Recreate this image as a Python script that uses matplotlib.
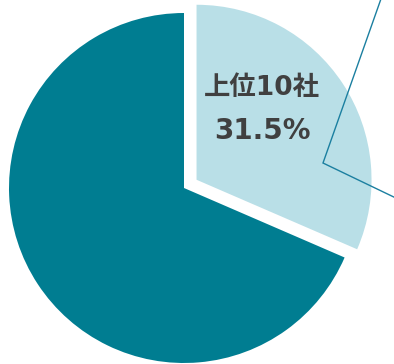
import matplotlib
matplotlib.use('Agg')
import matplotlib.pyplot as plt

plt.rcParams['font.family'] = ['DejaVu Sans', 'Noto Sans CJK JP']

# data
labels = ['上位10社', 'その他']
shares = [31.5, 68.5]
colors = ['#b9dfe7', '#007d91']

fig = plt.figure(figsize=(3.94, 3.64), dpi=100)
ax = fig.add_axes([0, 0, 1, 1])

wedges, _ = ax.pie(shares, colors=colors, startangle=90, counterclock=False,
                   center=(184, 176), radius=175, explode=[15, 0],
                   frame=True)
ax.set_xlim(0, 394)
ax.set_ylim(0, 364)
ax.set_aspect('equal')
ax.axis('off')

# leader line toward the breakdown chart
ax.plot([382, 323, 400], [368, 201, 164], color='#1b7fa0', lw=1.0,
        solid_joinstyle='miter')

ax.text(262, 276, labels[0], ha='center', va='center', fontsize=19,
        fontweight='bold', color='#404040')
ax.text(262, 233, f'{shares[0]}%', ha='center', va='center', fontsize=20,
        fontweight='bold', color='#404040')

fig.savefig('out.png', dpi=100)
